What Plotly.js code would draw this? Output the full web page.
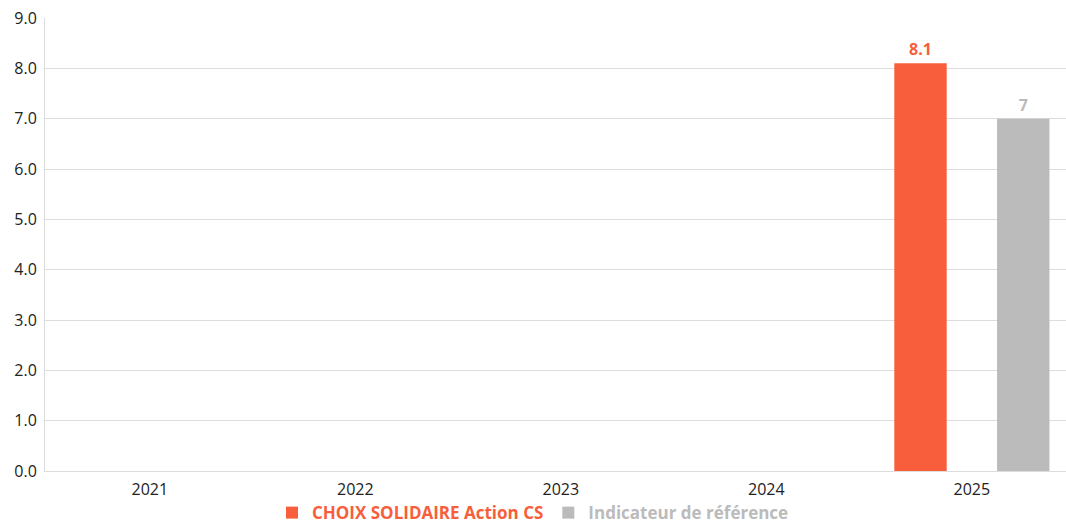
<!DOCTYPE html>
<html><head><meta charset="utf-8">
<script src="https://cdn.plot.ly/plotly-3.0.1.min.js"></script>
<style>html,body{margin:0;padding:0;overflow:hidden;background:#fff}</style>
</head><body><div id="chart" style="width:1066px;height:523px"></div>
<script>
const categories = ['2021','2022','2023','2024','2025'];
const seriesNames = ['CHOIX SOLIDAIRE Action CS','Indicateur de référence'];
const fundValues = [null,null,null,null,8.1];
const refValues = [null,null,null,null,7];
const fundLabels = ['','','','','8.1'];
const refLabels = ['','','','','7'];
const tickVals = [0,1,2,3,4,5,6,7,8,9];
const tickText = ['0.0','1.0','2.0','3.0','4.0','5.0','6.0','7.0','8.0','9.0'];
const colors = ['#F85E3B','#BBBBBB'];

const lblFont = {family:'Open Sans, sans-serif', size:16};
const traces = [
  {type:'bar', x:categories, y:fundValues, text:fundLabels, textposition:'outside', cliponaxis:false,
   texttemplate:'<b>%{text}</b>', textfont:Object.assign({color:colors[0]},lblFont),
   name:'<b><span style="color:'+colors[0]+'">'+seriesNames[0]+'</span></b>', marker:{color:colors[0]}, hoverinfo:'none'},
  {type:'bar', x:categories, y:refValues, text:refLabels, textposition:'outside', cliponaxis:false,
   texttemplate:'<b>%{text}</b>', textfont:Object.assign({color:colors[1]},lblFont),
   name:'<b><span style="color:'+colors[1]+'">'+seriesNames[1]+'</span></b>', marker:{color:colors[1]}, hoverinfo:'none'}
];
const layout = {
  width:1066, height:523,
  margin:{l:45, r:0, t:18, b:52},
  paper_bgcolor:'#fff', plot_bgcolor:'#fff',
  barmode:'group', bargap:0, bargroupgap:0.49,
  showlegend:true,
  legend:{orientation:'h', x:0.5, xref:'container', xanchor:'center', y:0.019, yref:'container', yanchor:'middle',
    font:{family:'Open Sans, sans-serif', size:17}, itemwidth:20, traceorder:'normal'},
  xaxis:{type:'category', range:[-0.51,4.458], showgrid:false, showline:true, linecolor:'#dddddd', linewidth:1,
    ticks:'', ticklabelstandoff:4, tickfont:{family:'Open Sans, sans-serif', size:16, color:'#222'}, fixedrange:true},
  yaxis:{range:[0,9], tickvals:tickVals, ticktext:tickText, showgrid:true, gridcolor:'#dddddd', gridwidth:1,
    showline:true, linecolor:'#dddddd', zeroline:false, ticks:'', ticklabelstandoff:4,
    tickfont:{family:'Open Sans, sans-serif', size:16, color:'#222'}, fixedrange:true}
};
Plotly.newPlot('chart', traces, layout, {displayModeBar:false, staticPlot:true});
</script></body></html>
